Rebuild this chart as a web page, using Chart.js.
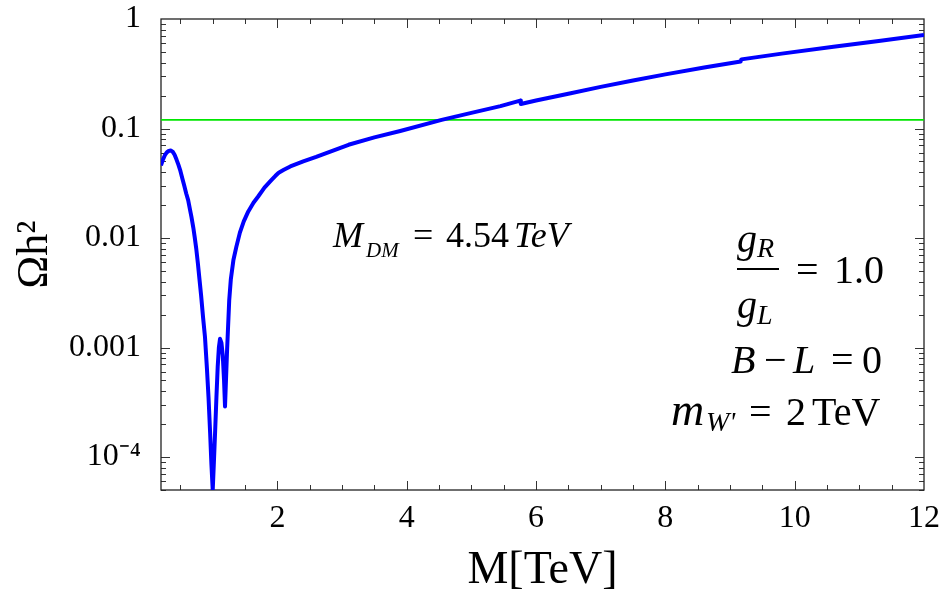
<!DOCTYPE html>
<html>
<head>
<meta charset="utf-8">
<script src="https://cdn.jsdelivr.net/npm/chart.js@4.4.1/dist/chart.umd.min.js"></script>
<style>
  html, body { margin: 0; padding: 0; background: #fff; }
  #wrap { width: 943px; height: 599px; }
</style>
</head>
<body>
<div id="wrap"><canvas id="relicChart"></canvas></div>
<script>
var serif = "'Liberation Serif', 'Times New Roman', serif";

// relic density vs mediator mass
var massTeV = [0.2, 0.23, 0.26, 0.29, 0.32, 0.35, 0.38, 0.41, 0.44, 0.47, 0.5, 0.53, 0.56, 0.59, 0.62,
               0.65, 0.67, 0.7, 0.72, 0.745, 0.77, 0.795, 0.82, 0.85, 0.88, 0.91, 0.935, 0.96, 0.98, 1.0,
               1.018, 1.036, 1.057, 1.077, 1.095, 1.113, 1.135, 1.155, 1.175, 1.19,
               1.222, 1.255, 1.28, 1.32, 1.365, 1.42, 1.48, 1.55, 1.63, 1.7, 1.8, 1.91, 1.97, 2.02, 2.1, 2.2,
               2.4, 2.6, 2.85, 3.1, 3.5, 3.9, 4.54, 5.0, 5.45, 5.755, 5.765, 6.0, 6.5, 7.0, 7.5, 8.0, 8.6,
               9.165, 9.175, 9.8, 10.6, 11.3, 12];
var omegaH2 = [0.046, 0.052, 0.057, 0.0605, 0.0625, 0.063, 0.0615, 0.0575, 0.052, 0.0465, 0.041, 0.035, 0.030, 0.0255, 0.0222,
               0.018, 0.0157, 0.0124, 0.0103, 0.008, 0.0059, 0.0042, 0.003, 0.0019, 0.00125, 6.5e-4, 3.5e-4, 1.65e-4, 8.5e-5, 5e-5,
               9e-5, 1.65e-4, 3.5e-4, 6.7e-4, 1.0e-3, 1.2e-3, 1.1e-3, 8.5e-4, 5.0e-4, 2.9e-4,
               9.5e-4, 2.7e-3, 4.2e-3, 6.3e-3, 8.3e-3, 0.0112, 0.0142, 0.0175, 0.021, 0.0238, 0.0288, 0.0339, 0.037, 0.0395, 0.042, 0.045,
               0.05, 0.055, 0.0625, 0.071, 0.083, 0.095, 0.12, 0.139, 0.16, 0.18, 0.1675, 0.18, 0.208, 0.24, 0.274, 0.312, 0.361,
               0.409, 0.428, 0.483, 0.558, 0.631, 0.714];

// observed relic abundance
var planckX = [0.2, 12];
var planckY = [0.1199, 0.1199];

var xTickVals = [2, 4, 6, 8, 10, 12];
var yTickVals = [1e-4, 1e-3, 0.01, 0.1, 1];
var yTickLabels = ['10\u207B\u2074', '0.001', '0.01', '0.1', '1'];

var curvePts = massTeV.map(function (m, i) { return {x: m, y: omegaH2[i]}; });
var planckPts = planckX.map(function (m, i) { return {x: m, y: planckY[i]}; });

// Mathematica style frame: ticks pointing inward on all four sides
var frameTicks = {
    id: 'frameTicks',
    beforeDatasetsDraw: function (chart) {
        var ctx = chart.ctx, a = chart.chartArea;
        var xs = chart.scales.x, ys = chart.scales.y;
        ctx.save();
        ctx.strokeStyle = '#333';
        ctx.lineWidth = 1;
        ctx.beginPath();
        for (var k = 1; k <= 23; k++) {
            var v = k * 0.5;
            var px = Math.round(xs.getPixelForValue(v)) + 0.5;
            var len = (k % 4 === 0) ? 9 : 5;
            ctx.moveTo(px, a.bottom); ctx.lineTo(px, a.bottom - len);
            ctx.moveTo(px, a.top); ctx.lineTo(px, a.top + len);
        }
        for (var d = -5; d <= 0; d++) {
            for (var m = 1; m <= 9; m++) {
                var val = m * Math.pow(10, d);
                if (val < ys.min || val >= ys.max) continue;
                var py = Math.round(ys.getPixelForValue(val)) + 0.5;
                var l2 = (m === 1) ? 9 : 5;
                ctx.moveTo(a.left, py); ctx.lineTo(a.left + l2, py);
                ctx.moveTo(a.right, py); ctx.lineTo(a.right - l2, py);
            }
        }
        ctx.stroke();
        ctx.lineWidth = 1.3;
        ctx.strokeStyle = '#222';
        ctx.strokeRect(a.left, a.top, a.right - a.left, a.bottom - a.top);
        ctx.restore();
    }
};

function put(ctx, txt, x, y, size, italic) {
    ctx.font = (italic ? 'italic ' : '') + size + 'px ' + serif;
    ctx.fillText(txt, x, y);
}

var annotations = {
    id: 'annotations',
    afterDraw: function (chart) {
        var ctx = chart.ctx;
        ctx.save();
        ctx.fillStyle = '#000';
        ctx.textBaseline = 'alphabetic';
        ctx.textAlign = 'left';
        // M_DM = 4.54 TeV
        put(ctx, 'M', 333, 247, 36, true);
        put(ctx, 'DM', 366, 257, 21, true);
        put(ctx, '=', 413, 247, 36, false);
        put(ctx, '4.54', 446, 247, 36, false);
        put(ctx, 'TeV', 514, 247, 36, true);
        // gR / gL = 1.0
        put(ctx, 'g', 737, 252, 40, true);
        put(ctx, 'R', 757, 257, 28, true);
        ctx.fillRect(737, 268, 42, 2);
        put(ctx, '=', 796, 283, 40, false);
        put(ctx, '1.0', 834, 283, 40, false);
        put(ctx, 'g', 737, 318, 40, true);
        put(ctx, 'L', 757, 324, 28, true);
        // B - L = 0
        put(ctx, 'B', 731, 373, 40, true);
        put(ctx, '\u2212', 764, 373, 40, false);
        put(ctx, 'L', 793, 373, 40, true);
        put(ctx, '=', 831, 373, 40, false);
        put(ctx, '0', 862, 373, 40, false);
        // m_W' = 2 TeV
        put(ctx, 'm', 671, 425, 46, true);
        put(ctx, "W'", 706, 431, 28, true);
        put(ctx, '=', 749, 425, 40, false);
        put(ctx, '2', 786, 425, 40, false);
        put(ctx, 'TeV', 812, 425, 40, false);
        ctx.restore();
    }
};

document.addEventListener('DOMContentLoaded', function () {
    var ctx = document.getElementById('relicChart').getContext('2d');
    new Chart(ctx, {
        type: 'scatter',
        data: {
            datasets: [{
                label: 'Omega h2',
                data: curvePts,
                showLine: true,
                borderColor: 'rgb(0,0,255)',
                borderWidth: 4,
                borderJoinStyle: 'round',
                pointRadius: 0,
                tension: 0,
                fill: false,
                order: 1
            }, {
                label: 'Planck',
                data: planckPts,
                showLine: true,
                borderColor: 'rgb(0,230,0)',
                borderWidth: 1.8,
                pointRadius: 0,
                fill: false,
                order: 2
            }]
        },
        options: {
            responsive: true,
            maintainAspectRatio: false,
            animation: false,
            layout: { padding: { top: 19, right: 19, left: 0, bottom: 0 } },
            plugins: { legend: { display: false }, tooltip: { enabled: false } },
            scales: {
                x: {
                    type: 'linear',
                    min: 0.2,
                    max: 12,
                    grid: { display: false },
                    border: { display: false },
                    ticks: {
                        color: '#000',
                        font: { family: serif, size: 32 },
                        padding: 1,
                        maxRotation: 0,
                        autoSkip: false
                    },
                    afterBuildTicks: function (s) {
                        s.ticks = xTickVals.map(function (v) { return {value: v}; });
                    },
                    afterFit: function (s) {
                        s.height = 109;
                        s.paddingLeft = 0;
                        s.paddingRight = 0;
                    },
                    title: {
                        display: true,
                        text: 'M[TeV]',
                        color: '#000',
                        font: { family: serif, size: 46 },
                        padding: { top: 0, bottom: 0 }
                    }
                },
                y: {
                    type: 'logarithmic',
                    min: 5e-5,
                    max: 1,
                    grid: { display: false },
                    border: { display: false },
                    ticks: {
                        color: '#000',
                        font: { family: serif, size: 32 },
                        padding: 12,
                        autoSkip: false,
                        callback: function (v, i) { return yTickLabels[i]; }
                    },
                    afterBuildTicks: function (s) {
                        s.ticks = yTickVals.map(function (v) { return {value: v}; });
                    },
                    afterFit: function (s) {
                        s.width = 161;
                        s.paddingTop = 0;
                        s.paddingBottom = 0;
                    },
                    title: {
                        display: true,
                        text: '\u03A9h\u00B2',
                        color: '#000',
                        font: { family: serif, size: 44 },
                        padding: { top: 9, bottom: 0 }
                    }
                }
            }
        },
        plugins: [frameTicks, annotations]
    });
});
</script>
</body>
</html>
